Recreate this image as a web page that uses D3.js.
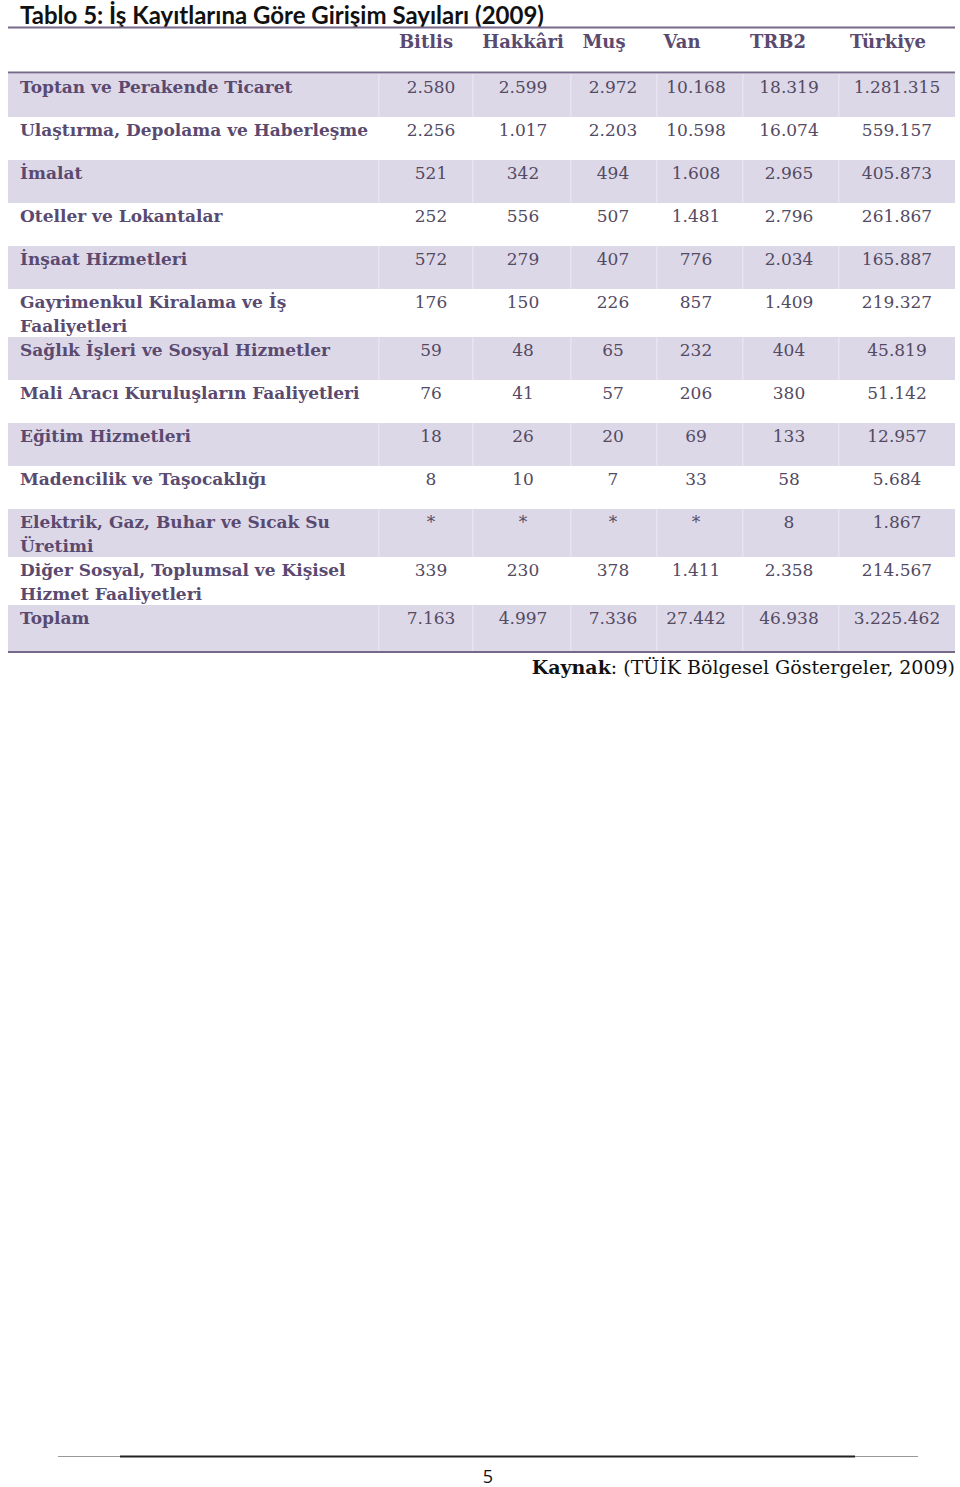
<!DOCTYPE html>
<html><head><meta charset="utf-8">
<script src="https://cdn.jsdelivr.net/npm/d3@7/dist/d3.min.js"></script>
<style>html,body{margin:0;padding:0;background:#fff}svg{display:block}</style>
</head><body>
<script>
// ---- data ----
const title = "Tablo 5: İş Kayıtlarına Göre Girişim Sayıları (2009)";
const regions = ["Bitlis", "Hakkâri", "Muş", "Van", "TRB2", "Türkiye"];
const categories = [
  ["Toptan ve Perakende Ticaret"],
  ["Ulaştırma, Depolama ve Haberleşme"],
  ["İmalat"],
  ["Oteller ve Lokantalar"],
  ["İnşaat Hizmetleri"],
  ["Gayrimenkul Kiralama ve İş", "Faaliyetleri"],
  ["Sağlık İşleri ve Sosyal Hizmetler"],
  ["Mali Aracı Kuruluşların Faaliyetleri"],
  ["Eğitim Hizmetleri"],
  ["Madencilik ve Taşocaklığı"],
  ["Elektrik, Gaz, Buhar ve Sıcak Su", "Üretimi"],
  ["Diğer Sosyal, Toplumsal ve Kişisel", "Hizmet Faaliyetleri"],
  ["Toplam"]
];
const bitlis  = ["2.580","2.256","521","252","572","176","59","76","18","8","*","339","7.163"];
const hakkari = ["2.599","1.017","342","556","279","150","48","41","26","10","*","230","4.997"];
const mus     = ["2.972","2.203","494","507","407","226","65","57","20","7","*","378","7.336"];
const van     = ["10.168","10.598","1.608","1.481","776","857","232","206","69","33","*","1.411","27.442"];
const trb2    = ["18.319","16.074","2.965","2.796","2.034","1.409","404","380","133","58","8","2.358","46.938"];
const turkiye = ["1.281.315","559.157","405.873","261.867","165.887","219.327","45.819","51.142","12.957","5.684","1.867","214.567","3.225.462"];
const source = ["Kaynak", ": (TÜİK Bölgesel Göstergeler, 2009)"];
const pageNumber = "5";

// ---- layout ----
const W = 960, H = 1487;
const series = [bitlis, hakkari, mus, van, trb2, turkiye];
const colEdges = [378, 472, 570, 656, 742, 838, 955];
const headerCenters = [426, 523, 604, 682, 778, 888];
const valueCenters = [431, 523, 613, 696, 789, 897];
const tableLeft = 8, tableRight = 955;
const serif = "'DejaVu Serif', 'Liberation Serif', serif";
const shade = "#ddd8e8", gapCol = "#e7e3ef", lineCol = "#76688a", labelCol = "#5a4a70", valCol = "#534a63";

const svg = d3.select("body").append("svg").attr("width", W).attr("height", H);

svg.append("text").attr("x", 20).attr("y", 24)
  .attr("font-family", "Lato, 'Open Sans', sans-serif").attr("font-weight", 700)
  .attr("font-size", 24).attr("fill", "#111").text(title);

svg.append("line").attr("x1", tableLeft).attr("x2", tableRight).attr("y1", 27.5).attr("y2", 27.5)
  .attr("stroke", lineCol).attr("stroke-width", 2);

// header
svg.selectAll("text.hdr").data(regions).join("text").attr("class", "hdr")
  .attr("x", (d, i) => headerCenters[i]).attr("y", 48).attr("text-anchor", "middle")
  .attr("font-family", serif).attr("font-weight", 700).attr("font-size", 18)
  .attr("fill", labelCol).text(d => d);

svg.append("line").attr("x1", tableLeft).attr("x2", tableRight).attr("y1", 72.5).attr("y2", 72.5)
  .attr("stroke", lineCol).attr("stroke-width", 2);

// rows: heights depend on number of label lines
const rows = [];
let y = 74;
categories.forEach((lines, i) => {
  const h = i === categories.length - 1 ? 46 : (lines.length > 1 ? 48 : 43);
  rows.push({ lines, i, top: y, h, values: series.map(s => s[i]) });
  y += h;
});
const bottomY = y;

const rowG = svg.selectAll("g.row").data(rows).join("g").attr("class", "row")
  .attr("transform", d => `translate(0,${d.top})`);

// shaded cells for even rows
rowG.filter(d => d.i % 2 === 0).each(function(d) {
  const g = d3.select(this);
  g.append("rect").attr("x", tableLeft).attr("y", 0).attr("width", tableRight - tableLeft).attr("height", d.h).attr("fill", shade);
  colEdges.slice(0, -1).forEach(e => {
    g.append("rect").attr("x", e).attr("y", 0).attr("width", 1.5).attr("height", d.h).attr("fill", gapCol);
  });
});

rowG.each(function(d) {
  const g = d3.select(this);
  const t = g.append("text").attr("font-family", serif).attr("font-weight", 700)
    .attr("font-size", 17).attr("fill", labelCol);
  d.lines.forEach((ln, k) => t.append("tspan").attr("x", 20).attr("y", 19 + k * 24).text(ln));
  g.selectAll("text.val").data(d.values).join("text").attr("class", "val")
    .attr("x", (v, c) => valueCenters[c])
    .attr("y", 19).attr("text-anchor", "middle")
    .attr("font-family", serif).attr("font-size", 17).attr("fill", valCol)
    .text(v => v);
});

svg.append("line").attr("x1", tableLeft).attr("x2", tableRight).attr("y1", bottomY + 1).attr("y2", bottomY + 1)
  .attr("stroke", lineCol).attr("stroke-width", 2);

const src = svg.append("text").attr("x", 955).attr("y", 674).attr("text-anchor", "end")
  .attr("font-family", serif).attr("font-size", 19).attr("fill", "#111");
src.append("tspan").attr("font-weight", 700).text(source[0]);
src.append("tspan").text(source[1]);

// footer
svg.append("line").attr("x1", 58).attr("x2", 918).attr("y1", 1456.5).attr("y2", 1456.5)
  .attr("stroke", "#999").attr("stroke-width", 1);
svg.append("line").attr("x1", 120).attr("x2", 855).attr("y1", 1456.5).attr("y2", 1456.5)
  .attr("stroke", "#222").attr("stroke-width", 2);
svg.append("text").attr("x", 488).attr("y", 1483).attr("text-anchor", "middle")
  .attr("font-family", "'Open Sans', sans-serif").attr("font-size", 18).attr("fill", "#111").text(pageNumber);
</script>
</body></html>
